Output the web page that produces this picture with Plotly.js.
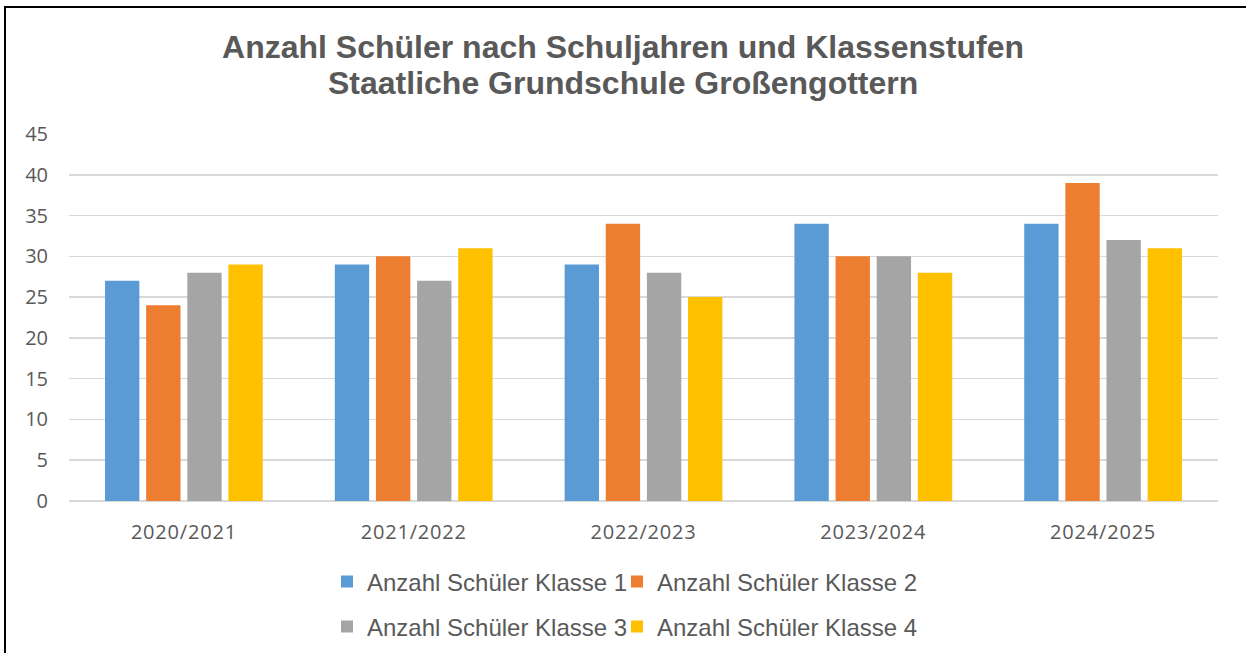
<!DOCTYPE html>
<html>
<head>
<meta charset="utf-8">
<script src="https://cdn.plot.ly/plotly-3.0.1.min.js"></script>
<style>
  html, body { margin: 0; padding: 0; background: #fff; }
  #wrap { position: relative; width: 1246px; height: 653px; overflow: hidden; }
  #chart { position: absolute; left: 0; top: 0; width: 1246px; height: 653px; }
  #frame { position: absolute; left: 4px; top: 6px; width: 1300px; height: 700px;
           border-top: 2px solid #000; border-left: 2px solid #000; pointer-events: none; }
  .xtick text { letter-spacing: 0.8px; }
</style>
</head>
<body>
<div id="wrap">
  <div id="chart"></div>
  <div id="frame"></div>
</div>
<script>
const categories = ["2020/2021", "2021/2022", "2022/2023", "2023/2024", "2024/2025"];
const seriesNames = ["Anzahl Schüler Klasse 1", "Anzahl Schüler Klasse 2", "Anzahl Schüler Klasse 3", "Anzahl Schüler Klasse 4"];
const klasse1 = [27, 29, 29, 34, 34];
const klasse2 = [24, 30, 34, 30, 39];
const klasse3 = [28, 27, 28, 30, 32];
const klasse4 = [29, 31, 25, 28, 31];
const yTicks = [0, 5, 10, 15, 20, 25, 30, 35, 40, 45];
const titleLine1 = "Anzahl Schüler nach Schuljahren und Klassenstufen";
const titleLine2 = "Staatliche Grundschule Großengottern";

const colors = ["#5B9BD5", "#ED7D31", "#A5A5A5", "#FFC000"];
const values = [klasse1, klasse2, klasse3, klasse4];
const legendIds = ["legend", "legend", "legend2", "legend2"];
const legendWidths = [245, 300, 245, 300];

const traces = values.map((v, i) => ({
  type: "bar",
  name: seriesNames[i],
  x: categories,
  y: v,
  marker: { color: colors[i], line: { width: 0 } },
  legend: legendIds[i],
  legendwidth: legendWidths[i],
  hoverinfo: "none"
}));

const textGray = "#595959";
const legendCommon = {
  orientation: "h",
  xref: "container", yref: "container",
  xanchor: "left", yanchor: "middle",
  font: { family: "Liberation Sans, Arial, sans-serif", size: 24, color: textGray },
  bgcolor: "rgba(0,0,0,0)",
  borderwidth: 0,
  entrywidthmode: "pixels",
  traceorder: "normal"
};

const layout = {
  width: 1246, height: 653,
  paper_bgcolor: "#ffffff",
  plot_bgcolor: "#ffffff",
  margin: { l: 69, r: 28, t: 134, b: 152, pad: 0 },
  barmode: "group",
  bargap: 0.284,
  bargroupgap: 0.165,
  title: {
    text: titleLine1,
    font: { family: "Liberation Sans, Arial, sans-serif", size: 32, color: textGray, weight: "bold" },
    x: 0.5, xref: "container", xanchor: "center",
    y: 1 - 47 / 653, yref: "container", yanchor: "middle"
  },
  annotations: [{
    text: titleLine2,
    font: { family: "Liberation Sans, Arial, sans-serif", size: 32, color: textGray, weight: "bold" },
    xref: "paper", yref: "paper",
    x: (623 - 69) / 1149, xanchor: "center",
    y: (501 - 83) / 367, yanchor: "middle",
    showarrow: false
  }],
  xaxis: {
    type: "category",
    showgrid: false,
    showline: false,
    zeroline: false,
    ticks: "",
    tickfont: { family: "Open Sans, sans-serif", size: 20, color: textGray },
    ticklabelstandoff: 17
  },
  yaxis: {
    range: [0, 45],
    tickvals: yTicks,
    ticktext: yTicks.map(String),
    showgrid: true,
    gridcolor: "#D9D9D9",
    gridwidth: 1.5,
    zeroline: true,
    zerolinecolor: "#D9D9D9",
    zerolinewidth: 2,
    showline: false,
    ticks: "",
    tickfont: { family: "Open Sans, sans-serif", size: 20, color: textGray },
    ticklabelstandoff: 20
  },
  legend: Object.assign({}, legendCommon, { x: 327 / 1246, y: 1 - 582 / 653 }),
  legend2: Object.assign({}, legendCommon, { x: 327 / 1246, y: 1 - 627 / 653 }),
  showlegend: true
};

Plotly.newPlot("chart", traces, layout, { staticPlot: true, displayModeBar: false });
</script>
</body>
</html>
